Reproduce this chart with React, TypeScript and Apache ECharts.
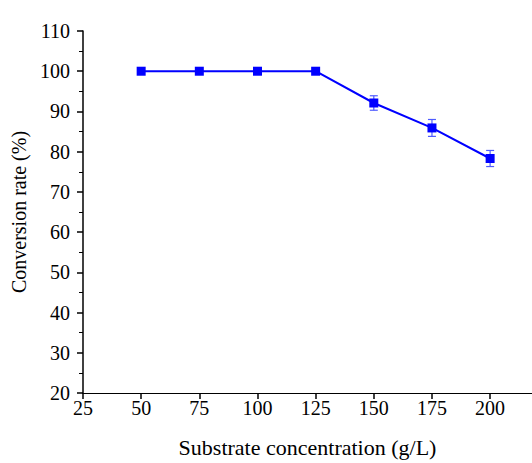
import React, { useEffect, useRef } from "react";
import * as echarts from "echarts";

const concentrations = [50, 75, 100, 125, 150, 175, 200];
const conversion = [100, 100, 100, 100, 92.1, 85.9, 78.3];
const errors = [0, 0, 0, 0, 1.8, 2.1, 2.0];
const xTitle = "Substrate concentration (g/L)";
const yTitle = "Conversion rate (%)";

const FONT = '"Liberation Serif", "Times New Roman", serif';

export default function App() {
  const ref = useRef<HTMLDivElement>(null);
  useEffect(() => {
    if (!ref.current) return;
    const chart = echarts.init(ref.current, undefined, { renderer: "svg" });
    const lineData = concentrations.map((c, i) => [c, conversion[i]]);
    const errData = concentrations
      .map((c, i) => [c, conversion[i] - errors[i], conversion[i] + errors[i]])
      .filter((d, i) => errors[i] > 0);
    chart.setOption({
      animation: false,
      backgroundColor: "#ffffff",
      grid: { left: 83, top: 31, right: 0, bottom: 67, containLabel: false },
      xAxis: {
        type: "value",
        min: 25,
        max: 218,
        interval: 25,
        name: xTitle,
        nameLocation: "middle",
        nameGap: 43,
        nameTextStyle: { fontFamily: FONT, fontSize: 22, color: "#000" },
        axisLine: { lineStyle: { color: "#000", width: 1 } },
        axisTick: { show: true, inside: false, length: 6, lineStyle: { color: "#000", width: 1.5 } },
        axisLabel: {
          fontFamily: FONT,
          fontSize: 20,
          color: "#000",
          margin: 5,
          showMaxLabel: false,
          formatter: (v: number) => (v % 25 === 0 ? String(v) : ""),
        },
        splitLine: { show: false },
      },
      yAxis: {
        type: "value",
        min: 20,
        max: 110,
        interval: 10,
        name: yTitle,
        nameLocation: "middle",
        nameGap: 47,
        nameTextStyle: { fontFamily: FONT, fontSize: 20, color: "#000" },
        axisLine: { show: true, lineStyle: { color: "#000", width: 1.5 } },
        axisTick: { show: true, inside: false, length: 6, lineStyle: { color: "#000", width: 1.5 } },
        minorTick: { show: true, splitNumber: 2, length: 4, lineStyle: { color: "#000", width: 1 } },
        axisLabel: { fontFamily: FONT, fontSize: 20, color: "#000", margin: 13 },
        splitLine: { show: false },
      },
      series: [
        {
          type: "custom",
          z: 1,
          renderItem: (params: any, api: any) => {
            const x = api.value(0);
            const lo = api.coord([x, api.value(1)]);
            const hi = api.coord([x, api.value(2)]);
            const cap = 4;
            const style = { stroke: "#4f5bff", lineWidth: 1.2 };
            return {
              type: "group",
              children: [
                { type: "line", shape: { x1: lo[0], y1: lo[1], x2: hi[0], y2: hi[1] }, style },
                { type: "line", shape: { x1: lo[0] - cap, y1: lo[1], x2: lo[0] + cap, y2: lo[1] }, style },
                { type: "line", shape: { x1: hi[0] - cap, y1: hi[1], x2: hi[0] + cap, y2: hi[1] }, style },
              ],
            };
          },
          encode: { x: 0, y: [1, 2] },
          data: errData,
        },
        {
          type: "line",
          z: 2,
          data: lineData,
          symbol: "rect",
          symbolSize: 9,
          itemStyle: { color: "#0000ff" },
          lineStyle: { color: "#0000ff", width: 2 },
        },
      ],
    });
    return () => chart.dispose();
  }, []);
  return (
    <div
      ref={ref}
      style={{ width: 532, height: 463, position: "absolute", left: 0, top: 0 }}
    />
  );
}
